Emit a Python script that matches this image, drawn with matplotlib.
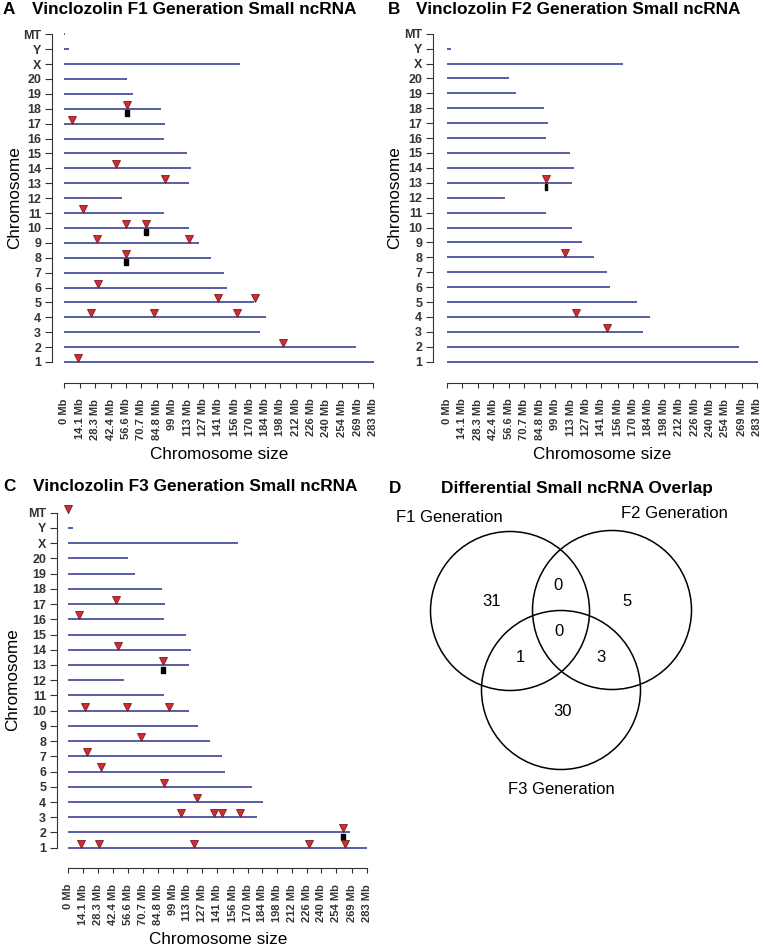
import matplotlib.pyplot as plt
from matplotlib.patches import Circle

# chromosome order on the y axis, bottom to top
chrom_labels = ["1", "2", "3", "4", "5", "6", "7", "8", "9", "10", "11", "12", "13",
                "14", "15", "16", "17", "18", "19", "20", "X", "Y", "MT"]
chrom_sizes = [283.5, 267, 179, 185, 174, 149, 146, 134, 123, 114, 91, 53, 114.5,
               116, 112, 91, 92, 89, 63, 57, 161, 4, 0.3]

x_ticks = [0, 14.1, 28.3, 42.4, 56.6, 70.7, 84.8, 99, 113, 127, 141, 156, 170,
           184, 198, 212, 226, 240, 254, 269, 283]
x_ticklabels = ["0 Mb", "14.1 Mb", "28.3 Mb", "42.4 Mb", "56.6 Mb", "70.7 Mb",
                "84.8 Mb", "99 Mb", "113 Mb", "127 Mb", "141 Mb", "156 Mb",
                "170 Mb", "184 Mb", "198 Mb", "212 Mb", "226 Mb", "240 Mb",
                "254 Mb", "269 Mb", "283 Mb"]

# differential small ncRNA sites (chromosome, position in Mb)
f1_chrom = ["18", "17", "14", "13", "11", "10", "10", "9", "9", "8", "6",
            "5", "5", "4", "4", "4", "2", "1"]
f1_pos = [57.7, 7.4, 47.3, 92.2, 16.8, 56.5, 74.8, 30.2, 113.9, 56.2, 31.1,
          140.8, 174.6, 24.7, 81.8, 158.4, 200, 12.5]
f1_cluster_chrom = ["18", "10", "8"]
f1_cluster_pos = [57.7, 74.8, 56.2]

f2_chrom = ["13", "8", "4", "3"]
f2_pos = [90.3, 108.2, 118.2, 146.2]
f2_cluster_chrom = ["13"]
f2_cluster_pos = [90.3]

f3_chrom = ["MT", "17", "16", "14", "13", "10", "10", "10", "8", "7", "6", "5",
            "4", "3", "3", "3", "3", "2", "1", "1", "1", "1", "1"]
f3_pos = [0, 45.3, 9.8, 46.8, 90.2, 15.5, 55.7, 95.5, 69.3, 17.7, 30.7, 91.1,
          122.1, 106.6, 138.5, 145.8, 162.9, 260.3, 12.0, 29.1, 119.5, 228.4, 262.2]
f3_cluster_chrom = ["13", "2"]
f3_cluster_pos = [90.2, 260.3]

# venn counts
venn_sets = ["F1 Generation", "F2 Generation", "F3 Generation"]
venn_counts = {"F1": 31, "F2": 5, "F3": 30, "F1F2": 0, "F1F3": 1, "F2F3": 3, "F1F2F3": 0}

W, H = 764, 949
fig = plt.figure(figsize=(W / 100, H / 100), dpi=100)
fig.patch.set_facecolor("white")

line_col = "#4a50a0"
tick_font = ["Liberation Sans Narrow", "Liberation Sans", "DejaVu Sans"]
main_font = ["Liberation Sans", "DejaVu Sans"]

rect_marker = [(-0.35, -0.5), (0.35, -0.5), (0.35, 0.5), (-0.35, 0.5), (-0.35, -0.5)]


def fx(px):
    return px / W


def fy(py):
    return 1 - py / H


def ideogram(x0, x1, ytop, ybot, left_off, bot_off, chroms, pos, cl_chrom, cl_pos,
             cl_w=0.7):
    ax = fig.add_axes([fx(x0), fy(ybot), (x1 - x0) / W, (ybot - ytop) / H])
    ax.set_xlim(0, 283)
    ax.set_ylim(1, 23)
    rows = list(range(1, len(chrom_labels) + 1))
    ax.hlines(rows, 0, chrom_sizes, color=line_col, lw=1.3, clip_on=False)
    idx = {c: i + 1 for i, c in enumerate(chrom_labels)}
    cy = [idx[c] - 0.3 for c in cl_chrom]
    verts = [(v[0] * cl_w / 0.7, v[1]) for v in rect_marker]
    ax.plot(cl_pos, cy, ls="none", marker=verts, ms=5, color="black",
            clip_on=False, zorder=3)
    ty = [idx[c] + 0.27 for c in chroms]
    ax.plot(pos, ty, ls="none", marker="v", ms=6.3, mfc="#d22b35", mec="#7a1c1c",
            mew=0.6, clip_on=False, zorder=4)
    for s in ["top", "right"]:
        ax.spines[s].set_visible(False)
    ax.spines["left"].set_position(("outward", left_off * 0.72))
    ax.spines["left"].set_bounds(1, 23)
    ax.spines["bottom"].set_position(("outward", bot_off * 0.72))
    ax.spines["bottom"].set_bounds(0, 283)
    for s in ["left", "bottom"]:
        ax.spines[s].set_color("#333333")
        ax.spines[s].set_linewidth(0.8)
    ax.set_yticks(rows)
    ax.set_yticklabels(chrom_labels, family=tick_font, fontsize=9, fontweight="bold",
                       color="#333333")
    ax.set_xticks(x_ticks)
    ax.set_xticklabels(x_ticklabels, family=tick_font, fontsize=8, fontweight="bold",
                       rotation=90, color="#333333")
    ax.tick_params(axis="y", length=5, width=0.8, pad=3, color="#333333")
    ax.tick_params(axis="x", length=3.5, width=0.8, pad=8, color="#333333")
    ax.set_facecolor("none")
    return ax


ideogram(64.3, 373.3, 34.3, 362, 12, 20.7, f1_chrom, f1_pos,
         f1_cluster_chrom, f1_cluster_pos)
ideogram(446.7, 757, 33.7, 361.7, 13.4, 21, f2_chrom, f2_pos,
         f2_cluster_chrom, f2_cluster_pos, cl_w=0.4)
ideogram(68.3, 366.7, 512.7, 847.7, 11, 20.3, f3_chrom, f3_pos,
         f3_cluster_chrom, f3_cluster_pos)

# panel titles
titles = [("A", 3, 9.5, "Vinclozolin F1 Generation Small ncRNA", 32),
          ("B", 388, 9.5, "Vinclozolin F2 Generation Small ncRNA", 416),
          ("C", 3, 487, "Vinclozolin F3 Generation Small ncRNA", 33),
          ("D", 389, 488, "Differential Small ncRNA Overlap", 441)]
for letter, lx, ly, txt, tx in titles:
    fig.text(fx(lx), fy(ly), letter, family=main_font, fontweight="bold",
             fontsize=12.3, ha="left", va="center")
    fig.text(fx(tx), fy(ly), txt, family=main_font, fontweight="bold",
             fontsize=12.4, ha="left", va="center")

# axis labels
for cx, cy in [(219, 455), (602, 455), (218, 940)]:
    fig.text(fx(cx), fy(cy), "Chromosome size", family=main_font, fontsize=12.3,
             ha="center", va="center")
for cx, cy in [(14.5, 198), (394.5, 198), (12.5, 680)]:
    fig.text(fx(cx), fy(cy), "Chromosome", family=main_font, fontsize=12.3,
             ha="center", va="center", rotation=90)

# venn diagram in pixel space
axv = fig.add_axes([0, 0, 1, 1])
axv.set_xlim(0, W)
axv.set_ylim(H, 0)
axv.axis("off")
circles = [(510, 611), (612, 610), (561, 690)]
for cx, cy in circles:
    axv.add_patch(Circle((cx, cy), 79.5, fill=False, ec="black", lw=1.1))

set_label_pos = [(449, 518), (674, 513), (561, 789)]
for name, (x, y) in zip(venn_sets, set_label_pos):
    axv.text(x, y, name, family=main_font, fontsize=12, ha="center", va="center")

count_pos = {"F1": (492, 601), "F1F2": (558, 585), "F2": (627, 601),
             "F1F2F3": (559, 631), "F1F3": (520, 657), "F2F3": (601, 657),
             "F3": (563, 711)}
for key, (x, y) in count_pos.items():
    axv.text(x, y, str(venn_counts[key]), family=main_font, fontsize=12,
             ha="center", va="center")

fig.savefig("out.png", dpi=100)
